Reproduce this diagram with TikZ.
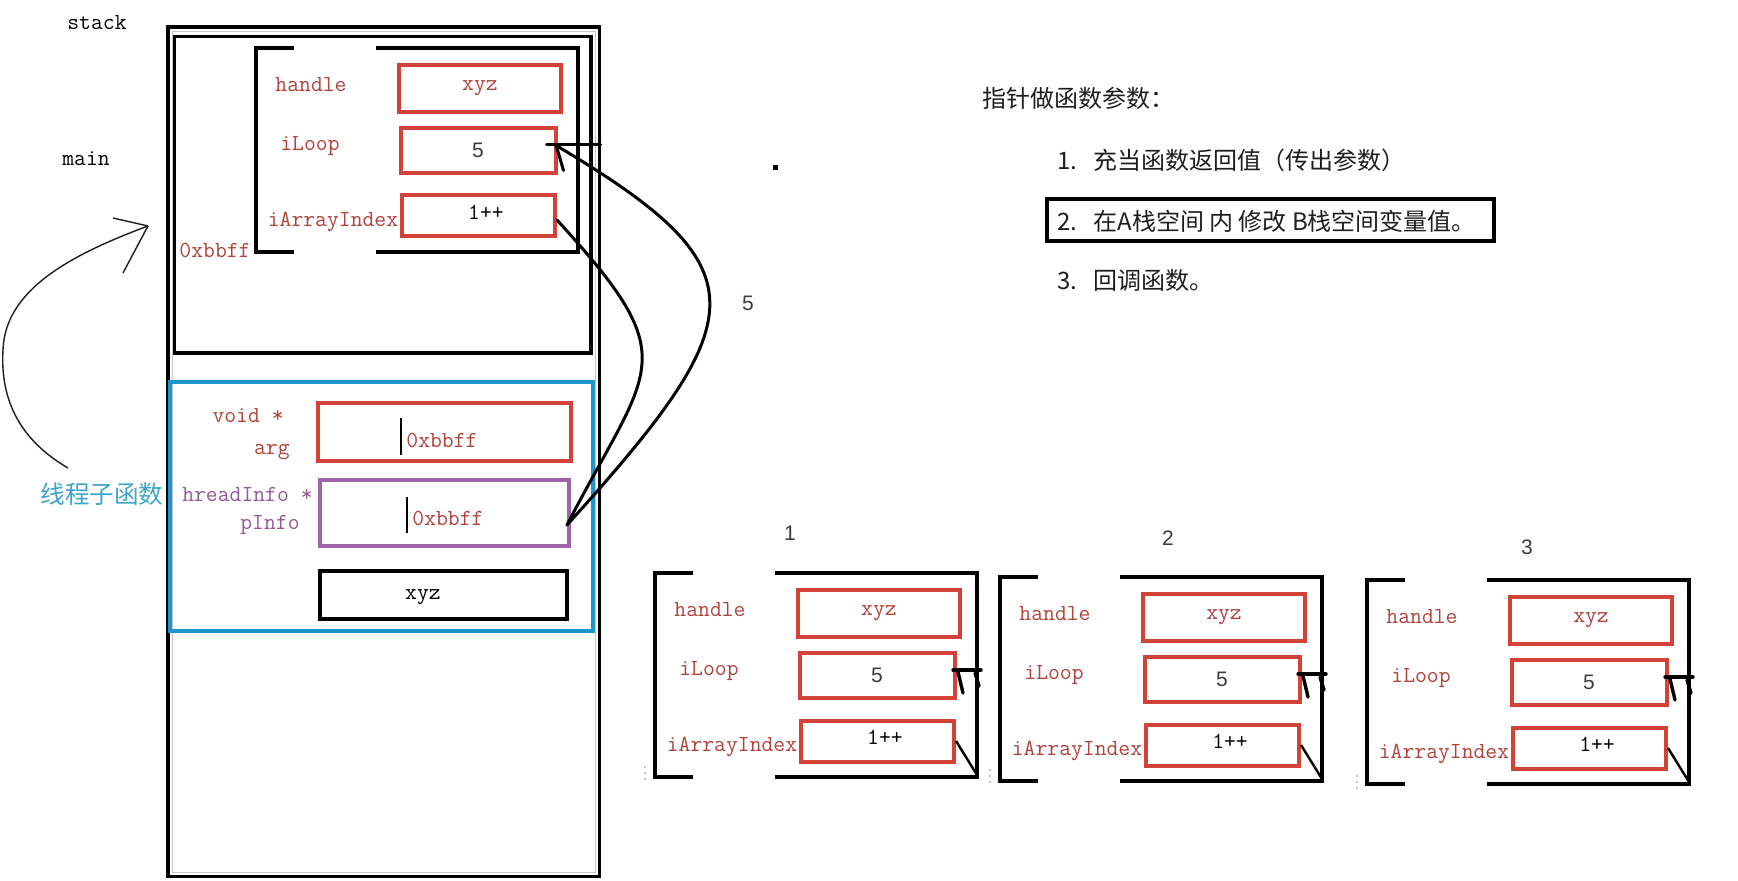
\documentclass[tikz,border=0pt]{standalone}
\usepackage{fontspec}
\setsansfont{Liberation Sans}
\newfontfamily\cjk{Noto Sans CJK SC}
\usetikzlibrary{calc}

\definecolor{lblred}{RGB}{176,66,60}
\definecolor{boxred}{RGB}{210,66,54}
\definecolor{ptrtext}{RGB}{145,88,150}
\definecolor{ptrbox}{RGB}{160,100,170}
\definecolor{frameblue}{RGB}{30,150,205}
\definecolor{thrblue}{RGB}{60,165,200}
\definecolor{numgray}{RGB}{60,60,60}
\definecolor{inkgray}{RGB}{30,30,30}

\tikzset{
  lbl/.style={font=\ttfamily\fontsize{11.5}{13}\selectfont, text=lblred, inner sep=0pt},
  blk/.style={font=\ttfamily\fontsize{11.5}{13}\selectfont, text=black, inner sep=0pt},
  num/.style={font=\sffamily\fontsize{10.5}{12}\selectfont, text=numgray, inner sep=0pt},
  cjktxt/.style={font=\cjk\fontsize{12}{14}\selectfont, text=inkgray, inner sep=0pt},
  brk/.style={line width=2pt, line cap=rect},
  valbox/.style={draw=boxred, line width=2pt, inner sep=0pt, font=\ttfamily\fontsize{11.5}{13}\selectfont},
  curve/.style={line width=1.5pt, line cap=round},
  loopline/.style={line width=1.2pt},
  barb/.style={line width=1.7pt, line cap=round},
  hand/.style={line width=0.7pt, draw=inkgray},
  % one struct in memory: handle / iLoop / iArrayIndex
  memblock/.pic={
    \draw[brk] (36,0) -- (0,0) -- (0,204) -- (36,204);
    \draw[brk] (122,0) -- (322,0) -- (322,204) -- (122,204);
    \node[valbox, minimum width=81pt, minimum height=23.5pt, text=lblred] (-hbox) at (224,40.5) {xyz};
    \node[valbox, minimum width=77.5pt, minimum height=22.5pt, text=numgray,
          font=\sffamily\fontsize{10.5}{12}\selectfont] (-lbox) at (222,102.5) {5};
    \node[valbox, minimum width=76.5pt, minimum height=20.5pt] (-abox) at (222.5,168) {};
    \node[blk] (-aval) at (230,164) {1++};
    \node[lbl] (-hlbl) at (55,37) {handle};
    \node[lbl] (-llbl) at (54,98) {iLoop};
    \node[lbl] (-albl) at (77,174) {iArrayIndex};
    \coordinate (-corner) at (322,202);
    \coordinate (-tip) at (298,97);
  }
}

\begin{document}
\begin{tikzpicture}[x=0.5pt,y=-0.5pt]
\useasboundingbox[fill=white] (0,0) rectangle (1738,881);

% ---------- stack ----------
\node[blk] (stacklbl) at (97,23) {stack};
\node[blk] (mainlbl) at (86,159) {main};
\draw[line width=1.7pt] (168,27) rectangle (599.5,876.5);
\draw[line width=0.4pt, gray!45] (172,31) rectangle (595.5,872.5);

% main frame
\draw[line width=1.6pt] (174.5,36.5) rectangle (591,353);
\pic (m) at (256,48) {memblock};
\node[lbl] (addr) at (215,250) {0xbbff};

% thread function frame
\draw[draw=frameblue, line width=2pt] (170,382) rectangle (593,631);
\node[lbl, anchor=east] (voidlbl) at (284,416) {void *};
\node[lbl, anchor=east] (arglbl) at (290,452) {arg};
\node[lbl, anchor=east, text=ptrtext] (tilbl) at (313,494) {hreadInfo *};
\node[lbl, anchor=east, text=ptrtext] (pilbl) at (300,525) {pInfo};

\node[draw=boxred, line width=2pt, minimum width=126.5pt, minimum height=29pt, inner sep=0pt] (argbox) at (444.5,432) {};
\draw[line width=0.8pt] (401,418) -- (401,455);
\node[lbl, anchor=west] (argval) at (406,440) {0xbbff};

\node[draw=ptrbox, line width=2pt, minimum width=124.5pt, minimum height=33pt, inner sep=0pt] (pinfobox) at (444.5,513) {};
\draw[line width=0.8pt] (407,497) -- (407,533);
\node[lbl, anchor=west] (pinfoval) at (412,518) {0xbbff};

\node[draw, line width=2pt, minimum width=123.5pt, minimum height=24pt, inner sep=0pt] (namebox) at (443.5,595) {};
\node[blk] (nameval) at (423,597) {xyz};

\node[cjktxt, text=thrblue, font=\cjk\fontsize{12.3}{14}\selectfont] (thr) at (102,494) {线程子函数};

% hand-drawn pointer from the thread function to main
\coordinate (hs) at (68,468);
\coordinate (ht) at (148,226);
\draw[hand] (hs) .. controls (20,440) and (0,400) .. (3,350)
                 .. controls (5,290) and (70,255) .. (ht);
\draw[hand] (ht) -- ++(-35,-8);
\draw[hand] (ht) -- ++(-25,47);

% pInfo points back into main's struct
\coordinate (pstart) at ($(pinfobox.east)+(-4,12)$);
\coordinate (tipA) at ($(m-lbox.east)+(-3,-6)$);
\draw[curve] (pstart) .. controls (757,315) and (762,268) .. (tipA);
\draw[curve] ($(tipA)+(-8,0)$) -- ++(54,0);
\draw[curve] ($(tipA)+(2,2)$) -- ++(7,24);
\draw[curve] (pstart) .. controls (650.6,363.4) and (686.4,361.6) .. ($(m-abox.east)+(0,4)$);
\node[num] (five) at (748,303) {5};
\fill (773,165) rectangle (778,170);

% ---------- notes ----------
\node[cjktxt, anchor=west] (title) at (982,98) {指针做函数参数：};
\node[cjktxt, anchor=west] (item1) at (1057,160) {\makebox[1.5em][l]{1.}充当函数返回值（传出参数）};
\node[cjktxt, anchor=west] (item2) at (1057,221) {\makebox[1.5em][l]{2.}在A栈空间 内 修改 B栈空间变量值。};
\draw[line width=2pt] (1047,199) rectangle (1494,241);
\node[cjktxt, anchor=west] (item3) at (1057,280) {\makebox[1.5em][l]{3.}回调函数。};

% ---------- three copies ----------
\pic (s1) at (655,573) {memblock};
\pic (s2) at (1000,577) {memblock};
\pic (s3) at (1367,580) {memblock};
\node[num] (n1) at (790,533) {1};
\node[num] (n2) at (1168,538) {2};
\node[num] (n3) at (1527,547) {3};

\foreach \s in {s1,s2,s3}{
  \draw[loopline] (\s-abox.east) -- (\s-corner) |- (\s-tip);
  \draw[barb] (\s-tip) -- ++(28,0);
  \draw[barb] ($(\s-tip)+(5,2)$) -- ++(5,21);
  \draw[barb] ($(\s-tip)+(22,3)$) -- ++(4,13);
}
\foreach \x/\y in {645/767, 990/770, 1357/776}{
  \fill[gray!60] (\x,\y) circle[radius=0.6pt];
  \fill[gray!60] (\x,\y+6) circle[radius=0.6pt];
  \fill[gray!60] (\x,\y+12) circle[radius=0.6pt];
}
\end{tikzpicture}
\end{document}
